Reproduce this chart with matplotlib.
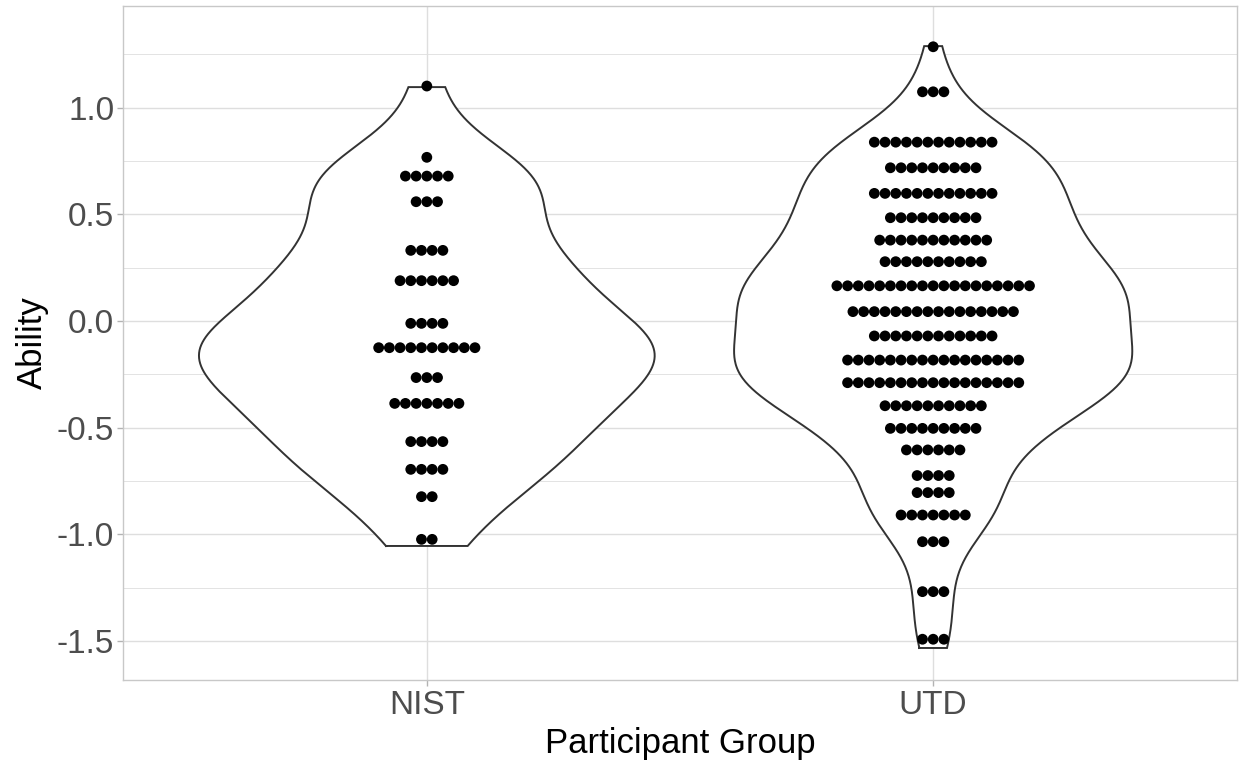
import numpy as np
import matplotlib
matplotlib.use("Agg")
import matplotlib.pyplot as plt

plt.rcParams["font.family"] = ["Liberation Sans", "DejaVu Sans"]

# ---- data ----
groups = ["NIST", "UTD"]

nist_levels = [1.101, 0.767, 0.679, 0.559, 0.331, 0.189, -0.011, -0.125,
               -0.265, -0.386, -0.565, -0.695, -0.823, -1.023]
nist_counts = [1, 1, 5, 3, 4, 6, 4, 10, 3, 7, 4, 4, 2, 2]
nist_range = [-1.054, 1.096]

utd_levels = [1.285, 1.074, 0.838, 0.718, 0.598, 0.484, 0.379, 0.278,
              0.165, 0.044, -0.070, -0.183, -0.289, -0.397, -0.503, -0.604,
              -0.724, -0.804, -0.909, -1.034, -1.268, -1.491]
utd_counts = [1, 3, 12, 9, 12, 9, 11, 10, 19, 16, 12, 17, 17, 10, 9, 6,
              4, 4, 7, 3, 3, 3]
utd_range = [-1.532, 1.288]

yticks = [-1.5, -1.0, -0.5, 0.0, 0.5, 1.0]
ytick_labels = ["-1.5", "-1.0", "-0.5", "0.0", "0.5", "1.0"]

# ---- helpers ----
def bw_nrd0(x):
    x = np.asarray(x, float)
    sd = np.std(x, ddof=1)
    iqr = np.subtract(*np.percentile(x, [75, 25]))
    lo = min(sd, iqr / 1.34)
    if lo == 0:
        lo = sd
    return 0.9 * lo * len(x) ** (-0.2)

def kde(x, grid):
    bw = bw_nrd0(x)
    z = (grid[:, None] - x[None, :]) / bw
    return np.exp(-0.5 * z ** 2).sum(axis=1) / (len(x) * bw * np.sqrt(2 * np.pi))

sets = [
    (nist_levels, nist_counts, nist_range),
    (utd_levels, utd_counts, utd_range),
]

fig = plt.figure(figsize=(12.39, 7.63), dpi=100)
W, H = 1239, 763
left, right, top, bottom = 123, 1237, 6, 680
ax = fig.add_axes([left / W, 1 - bottom / H, (right - left) / W, (bottom - top) / H])

xlim = (0.4, 2.6)
ylim = (-1.682, 1.476)
ax.set_xlim(*xlim)
ax.set_ylim(*ylim)

px_per_x = (right - left) / (xlim[1] - xlim[0])
dot_px = 10.8
pitch = 10.7 / px_per_x
dot_pt = dot_px * 72 / 100

# densities
dens = []
for lv, ct, rg in sets:
    data = np.repeat(np.array(lv, float), ct)
    grid = np.linspace(rg[0], rg[1], 512)
    dens.append((grid, kde(data, grid)))
gmax = max(d.max() for _, d in dens)

for i, ((lv, ct, rg), (grid, d)) in enumerate(zip(sets, dens)):
    xc = i + 1
    hw = 0.45 * d / gmax
    xs = np.concatenate([xc - hw, (xc + hw)[::-1], [xc - hw[0]]])
    ys = np.concatenate([grid, grid[::-1], [grid[0]]])
    ax.fill(xs, ys, color="white", zorder=2)
    ax.plot(xs, ys, color="#333333", lw=1.4, zorder=3, solid_joinstyle="miter")
    px, py = [], []
    for y, n in zip(lv, ct):
        for k in range(n):
            px.append(xc + (k - (n - 1) / 2) * pitch)
            py.append(y)
    ax.scatter(px, py, s=dot_pt ** 2, color="black", edgecolors="none", zorder=4)

# grid
minor = [-1.25, -0.75, -0.25, 0.25, 0.75, 1.25]
for y in minor:
    ax.axhline(y, color="#DEDEDE", lw=0.6, zorder=0)
for y in yticks:
    ax.axhline(y, color="#DEDEDE", lw=1.0, zorder=0)
for x in [1, 2]:
    ax.axvline(x, color="#DEDEDE", lw=1.0, zorder=0)

ax.set_xticks([1, 2])
ax.set_xticklabels(groups)
ax.set_yticks(yticks)
ax.set_yticklabels(ytick_labels)
ax.tick_params(axis="both", colors="#B3B3B3", length=4.3, width=1.0,
               labelsize=24, labelcolor="#4D4D4D", pad=2)
ax.tick_params(axis="x", pad=3)
for sp in ax.spines.values():
    sp.set_color("#C8C8C8")
    sp.set_linewidth(1.0)

ax.set_xlabel("Participant Group", fontsize=25, color="black", labelpad=4)
ax.set_ylabel("Ability", fontsize=25, color="black", labelpad=6)

fig.savefig("out.png", dpi=100, facecolor="white")
